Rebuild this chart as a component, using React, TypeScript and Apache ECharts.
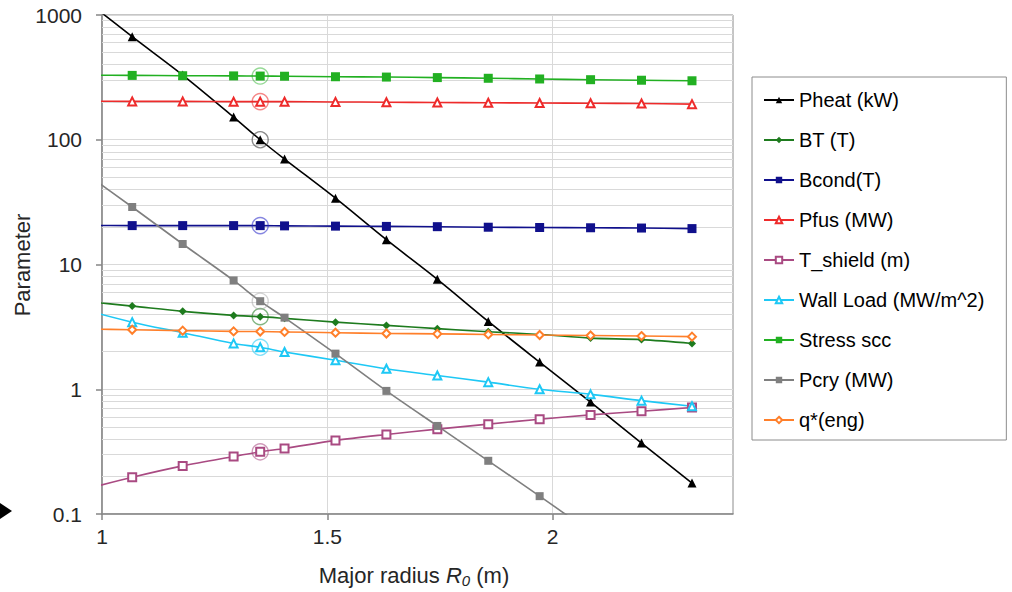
import React, { useEffect, useRef } from "react";
import * as echarts from "echarts";

const xValues = [0.954, 1.067, 1.179, 1.292, 1.351, 1.405, 1.518, 1.631, 1.744, 1.857, 1.971, 2.084, 2.197, 2.309];
const pheat = [1400, 670, 330, 152, 100, 70, 34, 15.8, 7.6, 3.5, 1.65, 0.79, 0.37, 0.177];
const bt = [5.1, 4.64, 4.21, 3.91, 3.82, 3.7, 3.45, 3.25, 3.06, 2.89, 2.75, 2.57, 2.5, 2.33];
const bcond = [20.6, 20.5, 20.5, 20.5, 20.5, 20.4, 20.3, 20.2, 20.1, 19.9, 19.8, 19.7, 19.6, 19.4];
const pfus = [204, 203, 203, 202, 202, 202, 201, 200, 199, 198, 197, 196, 195, 193];
const tShield = [0.155, 0.197, 0.243, 0.289, 0.315, 0.335, 0.389, 0.434, 0.479, 0.525, 0.575, 0.623, 0.667, 0.714];
const wallLoad = [4.4, 3.45, 2.84, 2.33, 2.17, 1.99, 1.71, 1.46, 1.29, 1.14, 1.0, 0.91, 0.81, 0.73];
const stress = [330, 328, 326, 325, 324, 323, 320, 318, 315, 311, 307, 303, 300, 297];
const pcry = [57, 28.9, 14.6, 7.45, 5.08, 3.75, 1.93, 0.97, 0.508, 0.267, 0.139, 0.072];
const qEng = [3.05, 3.0, 2.95, 2.91, 2.9, 2.88, 2.84, 2.8, 2.78, 2.75, 2.72, 2.7, 2.67, 2.64];

const designIndex = 4;
const xLabelValues = [1, 1.5, 2];
const decades = [0.1, 1, 10, 100];
const minorMultipliers = [2, 3, 4, 5, 6, 7, 8, 9];

const FONT = "'Liberation Sans', Arial, sans-serif";

type SeriesDef = {
  name: string;
  values: number[];
  color: string;
  symbol: string;
  size: number;
  circle?: string;
};

const seriesDefs: SeriesDef[] = [
  { name: "Pheat (kW)", values: pheat, color: "#000000", symbol: "triangle", size: 9, circle: "rgba(60,60,60,0.75)" },
  { name: "BT (T)", values: bt, color: "#1e7b1e", symbol: "diamond", size: 8, circle: "rgba(30,123,30,0.7)" },
  { name: "Bcond(T)", values: bcond, color: "#10108c", symbol: "rect", size: 9, circle: "rgba(40,40,200,0.7)" },
  { name: "Pfus (MW)", values: pfus, color: "#ee2b2b", symbol: "emptyTriangle", size: 8, circle: "rgba(238,43,43,0.7)" },
  { name: "T_shield (m)", values: tShield, color: "#a94a82", symbol: "emptyRect", size: 8, circle: "rgba(169,74,130,0.7)" },
  { name: "Wall Load (MW/m^2)", values: wallLoad, color: "#1ec8f5", symbol: "emptyTriangle", size: 8, circle: "rgba(30,200,245,0.7)" },
  { name: "Stress scc", values: stress, color: "#22b022", symbol: "rect", size: 9, circle: "rgba(34,176,34,0.6)" },
  { name: "Pcry (MW)", values: pcry, color: "#7f7f7f", symbol: "rect", size: 8, circle: "rgba(160,160,160,0.6)" },
  { name: "q*(eng)", values: qEng, color: "#ff7f2a", symbol: "emptyDiamond", size: 8 },
];

function buildOption(): any {
  const minorLines = decades.flatMap((d) => minorMultipliers.map((m) => ({ yAxis: +(m * d).toPrecision(3) })));

  const lineSeries = seriesDefs.map((s) => ({
    type: "line",
    name: s.name,
    data: s.values.map((v, i) => [xValues[i], v]),
    symbol: s.symbol,
    symbolSize: s.size,
    showAllSymbol: true,
    smooth: 0.3,
    clip: true,
    z: 3,
    lineStyle: { color: s.color, width: 1.6 },
    itemStyle: {
      color: s.color,
      borderColor: s.color,
      borderWidth: s.symbol.startsWith("empty") ? 1.2 : 0,
    },
    emphasis: { disabled: true },
  }));

  const circleSeries = seriesDefs
    .filter((s) => s.circle)
    .map((s) => ({
      type: "scatter",
      name: s.name + " design",
      data: [[xValues[designIndex], s.values[designIndex]]],
      symbol: "circle",
      symbolSize: 16,
      silent: true,
      z: 4,
      itemStyle: { color: "rgba(0,0,0,0)", borderColor: s.circle, borderWidth: 1.4 },
    }));

  const gridSeries = {
    type: "line",
    name: "minor-grid",
    data: [[1, 1]],
    symbol: "none",
    silent: true,
    z: 1,
    lineStyle: { width: 0, opacity: 0 },
    markLine: {
      silent: true,
      z: 1,
      symbol: ["none", "none"],
      label: { show: false },
      emphasis: { disabled: true },
      lineStyle: { color: "#d9d9d9", width: 1, type: "solid" },
      data: minorLines,
    },
  };

  return {
    animation: false,
    backgroundColor: "#ffffff",
    textStyle: { fontFamily: FONT },
    grid: {
      left: 102,
      top: 15,
      width: 631,
      height: 499,
      show: true,
      borderColor: "#8c8c8c",
      borderWidth: 1,
      backgroundColor: "transparent",
      containLabel: false,
    },
    legend: {
      data: seriesDefs.map((s) => s.name),
      orient: "vertical",
      left: 752,
      top: 77,
      padding: [13, 22, 10, 11],
      itemWidth: 30,
      itemHeight: 8,
      itemGap: 20,
      selectedMode: false,
      borderColor: "#8c8c8c",
      borderWidth: 1,
      textStyle: { fontSize: 20, color: "#000", fontFamily: FONT },
    },
    xAxis: {
      type: "value",
      min: 1,
      max: 2.4,
      interval: 0.1,
      axisLine: { show: true, lineStyle: { color: "#868686", width: 1.5 } },
      axisTick: { show: true, customValues: xLabelValues, length: 6, lineStyle: { color: "#868686", width: 1.5 } },
      axisLabel: {
        customValues: xLabelValues,
        formatter: (v: number) => String(v),
        fontSize: 21,
        color: "#262626",
        margin: 12,
        fontFamily: FONT,
      },
      splitLine: { show: true, lineStyle: { color: "#d9d9d9", width: 1 } },
    },
    yAxis: {
      type: "log",
      logBase: 10,
      min: 0.1,
      max: 1000,
      axisLine: { show: true, lineStyle: { color: "#868686", width: 1.5 } },
      axisTick: { show: true, length: 6, lineStyle: { color: "#868686", width: 1.5 } },
      axisLabel: {
        formatter: (v: number) => (v < 1 ? "0.1" : String(Math.round(v))),
        fontSize: 21,
        color: "#262626",
        margin: 20,
        fontFamily: FONT,
      },
      splitLine: { show: true, lineStyle: { color: "#d9d9d9", width: 1 } },
    },
    graphic: [
      {
        type: "text",
        x: 22,
        y: 265,
        rotation: Math.PI / 2,
        style: {
          text: "Parameter",
          fontSize: 22,
          fontFamily: FONT,
          fill: "#262626",
          textAlign: "center",
          textVerticalAlign: "middle",
        },
      },
      {
        type: "text",
        x: 414,
        y: 575,
        style: {
          text: "{a|Major radius }{i|R}{s|0}{a| (m)}",
          textAlign: "center",
          textVerticalAlign: "middle",
          rich: {
            a: { fontSize: 22, fontFamily: FONT, fill: "#262626", lineHeight: 26, verticalAlign: "middle" },
            i: { fontSize: 22, fontFamily: FONT, fill: "#262626", fontStyle: "italic", lineHeight: 26, verticalAlign: "middle" },
            s: { fontSize: 15, fontFamily: FONT, fill: "#262626", fontStyle: "italic", lineHeight: 15, verticalAlign: "bottom" },
          },
        },
      },
      {
        type: "polygon",
        shape: { points: [[0, 503], [12, 511], [0, 519]] },
        style: { fill: "#000" },
      },
    ],
    series: [gridSeries, ...lineSeries, ...circleSeries],
  };
}

export default function App() {
  const ref = useRef<HTMLDivElement>(null);
  useEffect(() => {
    if (!ref.current) return;
    const chart = echarts.init(ref.current, null, { renderer: "svg" });
    chart.setOption(buildOption());
    return () => chart.dispose();
  }, []);
  return (
    <div
      ref={ref}
      style={{ position: "fixed", left: 0, top: 0, width: 1012, height: 592, background: "#fff" }}
    />
  );
}
